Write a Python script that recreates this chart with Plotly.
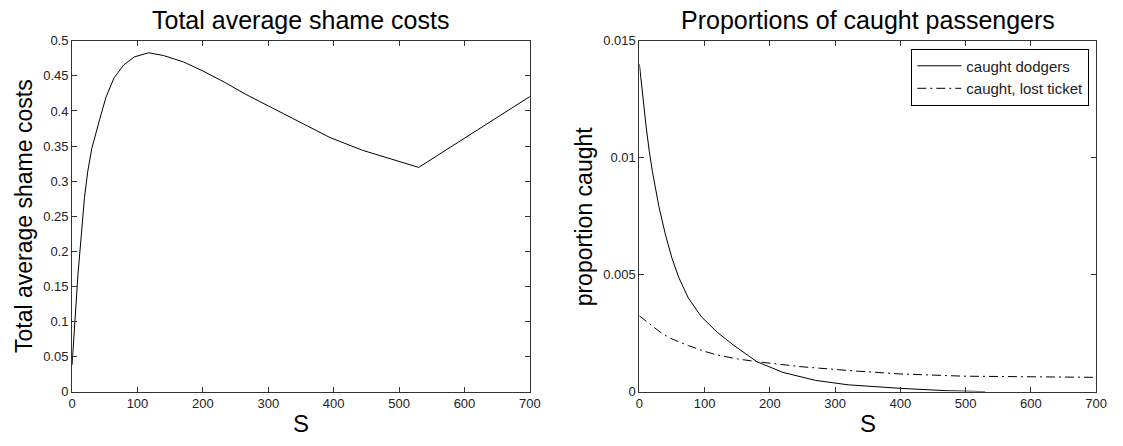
import plotly.graph_objects as go

# ---- data ----
shame_S = [0, 2, 4, 6.5, 9, 14, 19, 24, 30, 42, 52, 64, 79, 95, 117, 140, 170,
           200, 235, 265, 293, 343, 394, 444, 494, 530, 700]
shame_cost = [0.038, 0.07, 0.103, 0.135, 0.167, 0.222, 0.277, 0.314, 0.346,
              0.3875, 0.42, 0.447, 0.4656, 0.477, 0.483, 0.479, 0.470, 0.457,
              0.440, 0.424, 0.4105, 0.3866, 0.3623, 0.344, 0.330, 0.3196, 0.4206]

dodgers_S = [0, 5, 10, 15, 20, 30, 40, 50, 60, 75, 95, 120, 145, 180, 220, 270,
             320, 400, 470, 530]
dodgers_p = [0.0140, 0.0126, 0.0114, 0.0103, 0.0094, 0.0079, 0.0067, 0.0057,
             0.0049, 0.0040, 0.0032, 0.00252, 0.00197, 0.00128, 0.00082,
             0.00048, 0.00029, 0.00014, 0.00004, 0.0]

lost_S = [0, 10, 20, 34, 50, 75, 100, 120, 150, 180, 246, 321, 397, 497, 598, 700]
lost_p = [0.00324, 0.00300, 0.00280, 0.00250, 0.00225, 0.00197, 0.00172,
          0.00156, 0.0014, 0.00128, 0.00107, 0.0009, 0.00076, 0.00066,
          0.00062, 0.00061]

x_ticks = [0, 100, 200, 300, 400, 500, 600, 700]
y1_ticks = [0, 0.05, 0.1, 0.15, 0.2, 0.25, 0.3, 0.35, 0.4, 0.45, 0.5]
y1_labels = ["0", "0.05", "0.1", "0.15", "0.2", "0.25", "0.3", "0.35", "0.4", "0.45", "0.5"]
y2_ticks = [0, 0.005, 0.01, 0.015]
y2_labels = ["0", "0.005", "0.01", "0.015"]

titles = ["Total average shame costs", "Proportions of caught passengers"]
ytitles = ["Total average shame costs", "proportion caught"]
series_names = ["caught dodgers", "caught, lost ticket"]

# ---- layout geometry ----
W, H = 1123, 446
FONT = "Liberation Sans, Arial, Helvetica, sans-serif"

def px_x(p):
    return p / W

def px_y(p):
    return 1 - p / H

fig = go.Figure()
fig.add_trace(go.Scatter(x=shame_S, y=shame_cost, mode="lines",
                         line=dict(color="black", width=1),
                         showlegend=False, xaxis="x", yaxis="y"))
fig.add_trace(go.Scatter(x=dodgers_S, y=dodgers_p, mode="lines", name=series_names[0],
                         line=dict(color="black", width=1),
                         xaxis="x2", yaxis="y2"))
fig.add_trace(go.Scatter(x=lost_S, y=lost_p, mode="lines", name=series_names[1],
                         line=dict(color="black", width=1, dash="9px,4px,2px,4px"),
                         xaxis="x2", yaxis="y2"))

axis_common = dict(showline=True, linecolor="#333", linewidth=1, mirror="ticks",
                   ticks="inside", ticklen=5, tickcolor="#333", tickwidth=1,
                   showgrid=False, zeroline=False,
                   tickfont=dict(family=FONT, size=13, color="#222"))

fig.update_layout(
    width=W, height=H,
    margin=dict(l=0, r=0, t=0, b=0),
    paper_bgcolor="white", plot_bgcolor="white",
    font=dict(family=FONT, color="black"),
    xaxis=dict(domain=[px_x(69), px_x(533)], range=[0, 700], tickvals=x_ticks,
               anchor="y", **axis_common),
    yaxis=dict(domain=[px_y(398), px_y(35)], range=[0, 0.5], tickvals=y1_ticks,
               ticktext=y1_labels, anchor="x", **axis_common),
    xaxis2=dict(domain=[px_x(644), px_x(1107)], range=[0, 700], tickvals=x_ticks,
                anchor="y2", **axis_common),
    yaxis2=dict(domain=[px_y(398), px_y(35)], range=[0, 0.015], tickvals=y2_ticks,
                ticktext=y2_labels, anchor="x2", **axis_common),
    legend=dict(x=px_x(1100), y=px_y(43), xanchor="right", yanchor="top",
                bgcolor="white", bordercolor="black", borderwidth=1,
                font=dict(family=FONT, size=15, color="#222"),
                itemwidth=44, tracegroupgap=0),
    showlegend=True,
)

ann = []
for cx, t in zip([301, 875.5], titles):
    ann.append(dict(text=t, x=px_x(cx), y=px_y(13.5), xref="paper", yref="paper",
                    xanchor="center", yanchor="middle", showarrow=False,
                    font=dict(family=FONT, size=25, color="black")))
for cx in [301, 875.5]:
    ann.append(dict(text="S", x=px_x(cx), y=px_y(431.5), xref="paper", yref="paper",
                    xanchor="center", yanchor="middle", showarrow=False,
                    font=dict(family=FONT, size=24, color="black")))
for cx, t in zip([20, 588], ytitles):
    ann.append(dict(text=t, x=px_x(cx), y=px_y(216.5), xref="paper", yref="paper",
                    xanchor="center", yanchor="middle", showarrow=False, textangle=-90,
                    font=dict(family=FONT, size=23, color="black")))
fig.update_layout(annotations=ann)

fig.write_html("out.html")
